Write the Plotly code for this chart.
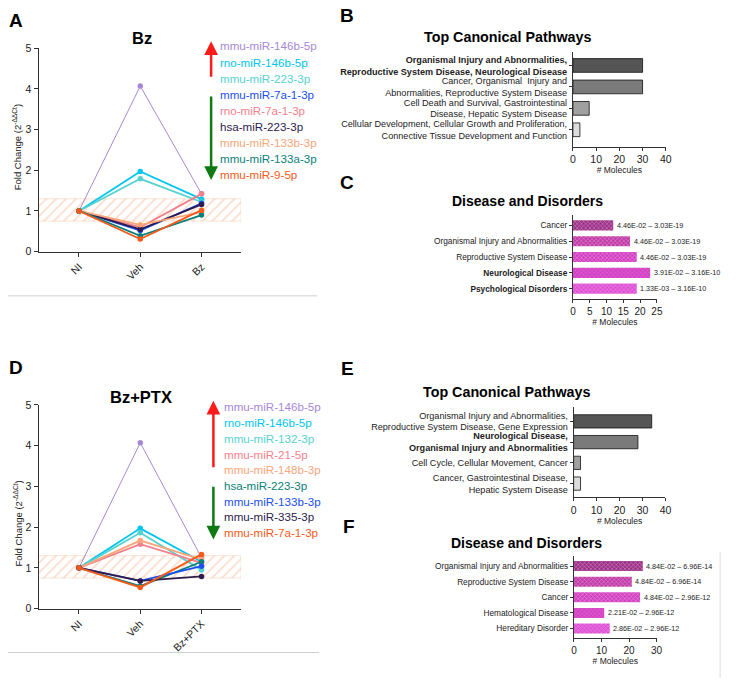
import plotly.graph_objects as go

W, H = 736, 687
def px(x): return x / W
def py(y): return 1 - y / H

FONT = "Arial, Liberation Sans, sans-serif"

# ---------------- data ----------------
groups_A = ["NI", "Veh", "Bz"]
groups_D = ["NI", "Veh", "Bz+PTX"]

mirs_A = ["mmu-miR-146b-5p", "rno-miR-146b-5p", "mmu-miR-223-3p", "mmu-miR-7a-1-3p",
          "rno-miR-7a-1-3p", "hsa-miR-223-3p", "mmu-miR-133b-3p", "mmu-miR-133a-3p", "mmu-miR-9-5p"]
colors_A = ["#a688d6", "#00c5ee", "#55d2d0", "#1a4ff0", "#f47f8c", "#2d1b4e", "#f9a67a", "#0b7f7a", "#f55a1a"]
vals_A = [
    [1, 4.07, 1.42],
    [1, 1.97, 1.29],
    [1, 1.79, 1.22],
    [1, 0.52, 1.19],
    [1, 0.60, 1.42],
    [1, 0.55, 1.16],
    [1, 0.66, 0.97],
    [1, 0.39, 0.90],
    [1, 0.31, 1.02],
]

mirs_D = ["mmu-miR-146b-5p", "rno-miR-146b-5p", "mmu-miR-132-3p", "mmu-miR-21-5p",
          "mmu-miR-148b-3p", "hsa-miR-223-3p", "mmu-miR-133b-3p", "mmu-miR-335-3p", "mmu-miR-7a-1-3p"]
colors_D = ["#a688d6", "#00c5ee", "#55d2d0", "#f47f8c", "#f9a67a", "#0b7f7a", "#1a4ff0", "#2d1b4e", "#f55a1a"]
vals_D = [
    [1, 4.07, 1.25],
    [1, 1.97, 1.15],
    [1, 1.86, 0.95],
    [1, 1.58, 1.12],
    [1, 1.67, 1.21],
    [1, 0.55, 1.15],
    [1, 0.68, 1.04],
    [1, 0.68, 0.79],
    [1, 0.52, 1.33],
]
band = [0.75, 1.3]

cats_B = ["<b>Organismal Injury and Abnormalities,</b><br><b>Reproductive System Disease, Neurological Disease</b>",
          "Cancer, Organismal  Injury and<br>Abnormalities, Reproductive System Disease",
          "Cell Death and Survival, Gastrointestinal<br>Disease, Hepatic System Disease",
          "Cellular Development, Cellular Growth and Proliferation,<br>Connective Tissue Development and Function"]
vals_B = [30, 30, 7, 3]

cats_C = ["Cancer", "Organismal Injury and Abnormalities", "Reproductive System Disease",
          "<b>Neurological Disease</b>", "<b>Psychological Disorders</b>"]
vals_C = [12, 17, 19, 23, 19]
pv_C = ["4.46E-02 – 3.03E-19", "4.46E-02 – 3.03E-19", "4.46E-02 – 3.03E-19",
        "3.91E-02 – 3.16E-10", "1.33E-03 – 3.16E-10"]

cats_E = ["Organismal Injury and Abnormalities,<br>Reproductive System Disease, Gene Expression",
          "<b>Neurological Disease,</b><br><b>Organismal Injury and Abnormalities</b>",
          "Cell Cycle, Cellular Movement, Cancer",
          "Cancer, Gastrointestinal Disease,<br>Hepatic System Disease"]
vals_E = [34, 28, 3, 3]

cats_F = ["Organismal Injury and Abnormalities", "Reproductive System Disease", "Cancer",
          "Hematological Disease", "Hereditary Disorder"]
vals_F = [25, 21, 24, 11, 13]
pv_F = ["4.84E-02 – 6.96E-14", "4.84E-02 – 6.96E-14", "4.84E-02 – 2.96E-12",
        "2.21E-02 – 2.96E-12", "2.86E-02 – 2.96E-12"]

gray_colors = ["#555555", "#7a7a7a", "#a0a0a0", "#dcdcdc"]
mag_colors = ["#9e2f88", "#c23aa8", "#d33ec2", "#e84ad8", "#f462ea"]

# ---------------- figure ----------------
fig = go.Figure()
XR = [-0.66, 2.645]

def line_panel(xa, ya, vals, colors, names):
    fig.add_trace(go.Scatter(
        x=[XR[0], XR[1], XR[1], XR[0], XR[0]], y=[band[0], band[0], band[1], band[1], band[0]],
        fill="toself", mode="lines", line=dict(color="rgba(247,170,120,0.4)", width=0.8),
        fillcolor="rgba(255,255,255,0)",
        fillpattern=dict(shape="/", fgcolor="#f7b08a", bgcolor="rgba(255,255,255,0)",
                         size=7, solidity=0.22),
        xaxis=xa, yaxis=ya, showlegend=False, hoverinfo="skip"))
    for i in range(len(vals)):
        lw = 1.0 if i == 0 else 1.8
        fig.add_trace(go.Scatter(
            x=[0, 1, 2], y=vals[i], mode="lines+markers", name=names[i],
            line=dict(color=colors[i], width=lw), marker=dict(color=colors[i], size=5.5),
            xaxis=xa, yaxis=ya, showlegend=False))

line_panel("x", "y", vals_A, colors_A, mirs_A)
line_panel("x2", "y2", vals_D, colors_D, mirs_D)

def bar_panel(xa, ya, cats, vals, colors, pattern):
    kw = {}
    if pattern:
        kw["marker"] = dict(color=colors, line=dict(width=0),
                            pattern=dict(shape="x", fillmode="overlay", fgcolor="rgba(255,255,255,0.5)",
                                         size=3, solidity=0.3))
    else:
        kw["marker"] = dict(color=colors, line=dict(color="#111111", width=0.8))
    fig.add_trace(go.Bar(y=cats, x=vals, orientation="h", width=0.64, xaxis=xa, yaxis=ya,
                         showlegend=False, **kw))

bar_panel("x3", "y3", cats_B, vals_B, gray_colors, False)
bar_panel("x4", "y4", cats_C, vals_C, mag_colors, True)
bar_panel("x5", "y5", cats_E, vals_E, gray_colors, False)
bar_panel("x6", "y6", cats_F, vals_F, mag_colors, True)

axcol = "#333333"
def line_axes(n, top, bottom, ticks):
    xs = "xaxis" if n == 1 else f"xaxis{n}"
    ys = "yaxis" if n == 1 else f"yaxis{n}"
    yref = "y" if n == 1 else f"y{n}"
    xref = "x" if n == 1 else f"x{n}"
    fig.layout[xs] = dict(domain=[px(36), px(241)], range=XR, anchor=yref,
                          tickvals=[0, 1, 2], ticktext=ticks, tickangle=-45,
                          showline=True, linecolor=axcol, linewidth=1, ticks="outside",
                          ticklen=4, tickcolor=axcol, showgrid=False, zeroline=False,
                          tickfont=dict(size=10.5, color="#222", family=FONT))
    fig.layout[ys] = dict(domain=[py(bottom), py(top)], range=[0, 5], anchor=xref,
                          tickvals=[0, 1, 2, 3, 4, 5], showline=True, linecolor=axcol, linewidth=1,
                          ticks="outside", ticklen=4, tickcolor=axcol, showgrid=False, zeroline=False,
                          tickfont=dict(size=10.5, color="#222", family=FONT))

line_axes(1, 43, 250, groups_A)
line_axes(2, 406, 613.3, groups_D)

def bar_axes(n, x0, x1, xmax, dtick, top, bottom, yr, cats, catsize, tsize):
    xs, ys = f"xaxis{n}", f"yaxis{n}"
    fig.layout[xs] = dict(domain=[px(x0), px(x1)], range=[0, xmax], anchor=f"y{n}", dtick=dtick,
                          showline=True, linecolor=axcol, linewidth=1, ticks="outside", ticklen=3,
                          tickcolor=axcol, showgrid=False, zeroline=False,
                          tickfont=dict(size=tsize, color="#222", family=FONT),
                          title=dict(text="# Molecules", font=dict(size=8.5, color="#222", family=FONT),
                                     standoff=0))
    fig.layout[ys] = dict(domain=[py(bottom), py(top)], range=yr, anchor=f"x{n}",
                          type="category", categoryorder="array", categoryarray=cats,
                          showline=True, linecolor=axcol, linewidth=1, ticks="outside", ticklen=3,
                          tickcolor=axcol, showgrid=False, zeroline=False,
                          tickfont=dict(size=catsize, color="#222", family=FONT))

bar_axes(3, 577, 671, 40, 10, 47, 143, [3.78, -0.62], cats_B, 9.1, 10.5)
bar_axes(4, 577, 662, 25, 5, 213, 298, [4.64, -0.64], cats_C, 8.3, 10)
bar_axes(5, 577.7, 670.7, 40, 10, 408, 500, [3.66, -0.70], cats_E, 9.1, 10.5)
bar_axes(6, 578, 661.7, 30, 10, 560, 643, [4.59, -0.63], cats_F, 8.3, 10)

ann = []
def text(x, y, s, size, color="#111", bold=False, xanchor="center", angle=0):
    ann.append(dict(x=px(x), y=py(y), xref="paper", yref="paper", text=f"<b>{s}</b>" if bold else s,
                    showarrow=False, xanchor=xanchor, yanchor="middle", textangle=angle,
                    font=dict(size=size, color=color, family=FONT)))

# panel letters
for L, x, y in [("A", 13, 15), ("B", 348, 10), ("C", 348, 180), ("D", 13, 368), ("E", 349, 369), ("F", 350, 530)]:
    text(x, y, L, 19, "#000", True)

text(140.7, 33, "Bz", 16.5, "#000", True)
text(140, 398, "Bz+PTX", 16.5, "#000", True)
text(511, 32, "Top Canonical Pathways", 14.3, "#000", True)
text(530.7, 198, "Disease and Disorders", 14, "#000", True)
text(510, 393, "Top Canonical Pathways", 14.3, "#000", True)
text(530, 547, "Disease and Disorders", 14, "#000", True)

text(15, 144, "Fold Change (2<sup>-ΔΔCt</sup>)", 9.5, "#222", False, "center", -90)
text(15, 527, "Fold Change (2<sup>-ΔΔCt</sup>)", 9.5, "#222", False, "center", -90)

for i, (m, c) in enumerate(zip(mirs_A, colors_A)):
    text(218, 40.7 + 16.4 * i, m, 11.6, c, False, "left")
for i, (m, c) in enumerate(zip(mirs_D, colors_D)):
    text(221.7, 408 + 16 * i, m, 11.6, c, False, "left")

def arrow(x, yhead, ytail, color):
    ann.append(dict(x=px(x), y=py(yhead), xref="paper", yref="paper", ax=0, ay=ytail - yhead,
                    showarrow=True, arrowhead=2, arrowsize=1.1, arrowwidth=2.5, arrowcolor=color, text=" "))

arrow(210.7, 36, 80, "#ff1a1a")
arrow(210.7, 177, 85, "#0e7a12")
arrow(213, 401.7, 476.7, "#ff1a1a")
arrow(213, 543, 481.7, "#0e7a12")

for i, (v, s) in enumerate(zip(vals_C, pv_C)):
    ann.append(dict(x=v + 0.5, y=cats_C[i], xref="x4", yref="y4", text=s, showarrow=False,
                    xanchor="left", font=dict(size=7.2, color="#222", family=FONT)))
for i, (v, s) in enumerate(zip(vals_F, pv_F)):
    ann.append(dict(x=v + 0.6, y=cats_F[i], xref="x6", yref="y6", text=s, showarrow=False,
                    xanchor="left", font=dict(size=7.2, color="#222", family=FONT)))

shapes = [
    dict(type="line", xref="paper", yref="paper", x0=px(5), x1=px(318), y0=py(295), y1=py(295),
         line=dict(color="#cfcfcf", width=1)),
    dict(type="line", xref="paper", yref="paper", x0=px(5), x1=px(320), y0=py(658), y1=py(658),
         line=dict(color="#cfcfcf", width=1)),
    dict(type="line", xref="paper", yref="paper", x0=px(726), x1=px(726), y0=py(556), y1=py(684),
         line=dict(color="#dddddd", width=1)),
]

fig.update_layout(width=W, height=H, margin=dict(l=0, r=0, t=0, b=0),
                  paper_bgcolor="white", plot_bgcolor="white", annotations=ann, shapes=shapes,
                  bargap=0.3, font=dict(family=FONT))
fig.write_html("out.html")
